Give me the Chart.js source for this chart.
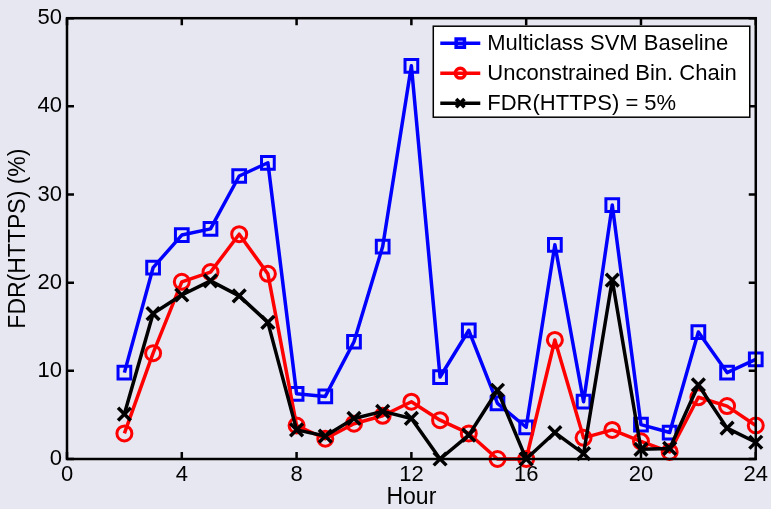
<!DOCTYPE html>
<html>
<head>
<meta charset="utf-8">
<script src="https://cdn.jsdelivr.net/npm/chart.js@4.4.1/dist/chart.umd.min.js"></script>
<style>
  html, body { margin: 0; padding: 0; background: #e7e7f1; }
</style>
</head>
<body>
<canvas id="fdrChart" width="771" height="509"></canvas>
<script>
// 資料：每小時的 FDR(HTTPS) (%)
const hours = [2, 3, 4, 5, 6, 7, 8, 9, 10, 11, 12, 13, 14, 15, 16, 17, 18, 19, 20, 21, 22, 23, 24];
const svmBaseline = [9.8, 21.7, 25.4, 26.1, 32.1, 33.6, 7.4, 7.1, 13.3, 24.1, 44.6, 9.3, 14.6, 6.3, 3.6, 24.3, 6.5, 28.8, 3.9, 3.0, 14.4, 9.8, 11.3];
const unconstrainedChain = [2.9, 12.0, 20.1, 21.2, 25.5, 21.0, 3.8, 2.3, 4.0, 4.9, 6.5, 4.4, 2.9, 0.0, 0.0, 13.5, 2.4, 3.3, 2.0, 0.8, 7.0, 6.0, 3.8];
const fdrFivePct = [5.1, 16.5, 18.6, 20.2, 18.5, 15.5, 3.3, 2.6, 4.6, 5.4, 4.6, 0.0, 2.7, 7.8, 0.0, 3.0, 0.6, 20.3, 1.1, 1.2, 8.4, 3.5, 1.9];
const xTicks = [0, 4, 8, 12, 16, 20, 24];
const yTicks = [0, 10, 20, 30, 40, 50];

const FONT = 'Liberation Sans, Arial, Helvetica, sans-serif';

function toPoints(values) {
    return hours.map((h, i) => ({ x: h, y: values[i] }));
}

// 框線、向內刻度與圖例
const boxPlugin = {
    id: 'boxPlugin',
    afterDraw(chart) {
        const ctx = chart.ctx;
        const area = chart.chartArea;
        const xs = chart.scales.x;
        const ys = chart.scales.y;
        const tick = 7;
        ctx.save();
        ctx.strokeStyle = '#000';
        ctx.lineWidth = 2.5;
        ctx.beginPath();
        xTicks.forEach(v => {
            const px = xs.getPixelForValue(v);
            ctx.moveTo(px, area.bottom); ctx.lineTo(px, area.bottom - tick);
            ctx.moveTo(px, area.top); ctx.lineTo(px, area.top + tick);
        });
        yTicks.forEach(v => {
            const py = ys.getPixelForValue(v);
            ctx.moveTo(area.left, py); ctx.lineTo(area.left + tick, py);
            ctx.moveTo(area.right, py); ctx.lineTo(area.right - tick, py);
        });
        ctx.stroke();
        ctx.strokeRect(area.left, area.top, area.right - area.left, area.bottom - area.top);

        // 圖例
        ctx.font = '22px ' + FONT;
        const sets = chart.data.datasets;
        const textW = Math.max(...sets.map(d => ctx.measureText(d.label).width));
        const rowH = 30;
        const boxW = 7 + 40 + 7 + textW + 13;
        const boxH = 17 + rowH * (sets.length - 1) + 14;
        const bx = area.right - 6 - boxW;
        const by = area.top + 8;
        ctx.fillStyle = '#fff';
        ctx.fillRect(bx, by, boxW, boxH);
        ctx.lineWidth = 1.5;
        ctx.strokeStyle = '#000';
        ctx.strokeRect(bx, by, boxW, boxH);
        sets.forEach((d, i) => {
            const cy = by + 17 + i * rowH;
            const x0 = bx + 7;
            ctx.strokeStyle = d.borderColor;
            ctx.lineWidth = 3.5;
            ctx.beginPath();
            ctx.moveTo(x0, cy); ctx.lineTo(x0 + 40, cy);
            ctx.stroke();
            ctx.fillStyle = 'rgba(0,0,0,0)';
            Chart.helpers.drawPoint(ctx, {
                pointStyle: d.pointStyle,
                radius: d.pointRadius * 0.65,
                borderWidth: 3,
                rotation: 0
            }, x0 + 20, cy);
            ctx.fillStyle = '#000';
            ctx.textBaseline = 'middle';
            ctx.textAlign = 'left';
            ctx.fillText(d.label, x0 + 47, cy + 1);
        });
        ctx.restore();
    }
};

const ctx = document.getElementById('fdrChart').getContext('2d');
new Chart(ctx, {
    type: 'line',
    data: {
        datasets: [{
            label: 'Multiclass SVM Baseline',
            data: toPoints(svmBaseline),
            borderColor: '#0000ff',
            backgroundColor: 'rgba(0,0,0,0)',
            borderWidth: 3.5,
            borderJoinStyle: 'round',
            pointStyle: 'rect',
            pointRadius: 9,
            pointBorderWidth: 3,
            pointBackgroundColor: 'rgba(0,0,0,0)',
            clip: false,
            order: 2
        }, {
            label: 'Unconstrained Bin. Chain',
            data: toPoints(unconstrainedChain),
            borderColor: '#ff0000',
            backgroundColor: 'rgba(0,0,0,0)',
            borderWidth: 3.5,
            borderJoinStyle: 'round',
            pointStyle: 'circle',
            pointRadius: 7.5,
            pointBorderWidth: 3,
            pointBackgroundColor: 'rgba(0,0,0,0)',
            clip: false,
            order: 1
        }, {
            label: 'FDR(HTTPS) = 5%',
            data: toPoints(fdrFivePct),
            borderColor: '#000000',
            backgroundColor: 'rgba(0,0,0,0)',
            borderWidth: 3.5,
            borderJoinStyle: 'round',
            pointStyle: 'crossRot',
            pointRadius: 9,
            pointBorderWidth: 3.5,
            clip: false,
            order: 0
        }]
    },
    options: {
        responsive: false,
        animation: false,
        layout: { padding: { top: 14, right: 15, left: 0, bottom: 0 } },
        plugins: {
            legend: { display: false },
            tooltip: { enabled: false }
        },
        scales: {
            x: {
                type: 'linear',
                min: 0,
                max: 24,
                grid: { display: false, drawTicks: false },
                border: { display: false },
                afterBuildTicks: s => { s.ticks = xTicks.map(v => ({ value: v })); },
                afterFit: s => { s.height = 50; },
                ticks: { color: '#000', font: { family: FONT, size: 22 }, padding: 3, maxRotation: 0, autoSkip: false },
                title: { display: true, text: 'Hour', color: '#000', font: { family: FONT, size: 23, lineHeight: 1.0 }, padding: 0 }
            },
            y: {
                min: 0,
                max: 50,
                grid: { display: false, drawTicks: false },
                border: { display: false },
                afterBuildTicks: s => { s.ticks = yTicks.map(v => ({ value: v })); },
                afterFit: s => { s.width = 67; },
                ticks: { color: '#000', font: { family: FONT, size: 22 }, padding: 5, autoSkip: false },
                title: { display: true, text: 'FDR(HTTPS) (%)', color: '#000', font: { family: FONT, size: 23, lineHeight: 1.0 }, padding: 7 }
            }
        }
    },
    plugins: [boxPlugin]
});
</script>
</body>
</html>
